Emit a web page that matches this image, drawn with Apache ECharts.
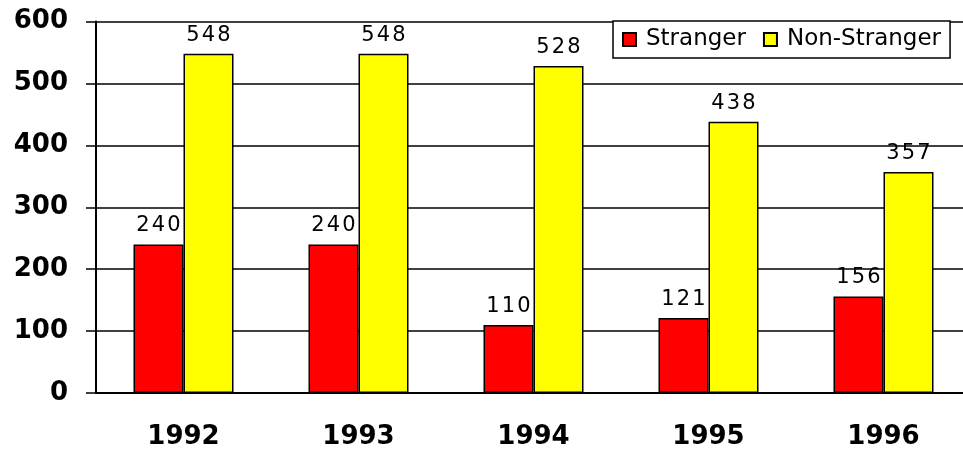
<!DOCTYPE html>
<html>
<head>
<meta charset="utf-8">
<script src="https://cdn.jsdelivr.net/npm/echarts@6/dist/echarts.min.js"></script>
<style>
  html, body { margin: 0; padding: 0; background: #fff; overflow: hidden; }
  #main { width: 972px; height: 451px; }
</style>
</head>
<body>
<div id="main"></div>
<script>
var years = ['1992', '1993', '1994', '1995', '1996'];
var stranger = [240, 240, 110, 121, 156];
var nonStranger = [548, 548, 528, 438, 357];
var yTicks = { min: 0, max: 600, interval: 100 };

var chart = echarts.init(document.getElementById('main'));

var labelStyle = {
  show: true,
  position: 'top',
  distance: 8,
  color: '#000',
  fontFamily: 'DejaVu Sans',
  fontSize: 21,
  formatter: function(p) {
    return p.value.toString().split('').join('\u200A');
  },
};

var option = {
  animation: false,
  backgroundColor: '#fff',
  // plot runs a little past the right edge of the window, as in the original
  grid: { left: 96, right: 1, top: 21.5, bottom: 58 },
  legend: {
    left: 613,
    top: 21,
    padding: [7, 9, 7, 9],
    itemWidth: 13,
    itemHeight: 13,
    itemGap: 17,
    borderColor: '#000',
    borderWidth: 1.5,
    backgroundColor: '#fff',
    icon: 'rect',
    textStyle: {
      fontFamily: 'DejaVu Sans',
      fontSize: 23,
      color: '#000',
      padding: [0, 0, 0, 5],
    },
    data: ['Stranger', 'Non-Stranger'],
  },
  xAxis: {
    type: 'category',
    data: years,
    axisLine: { lineStyle: { color: '#000', width: 2 } },
    axisTick: { show: false },
    axisLabel: {
      margin: 31,
      color: '#000',
      fontFamily: 'DejaVu Sans',
      fontWeight: 'bold',
      fontSize: 26,
    },
  },
  yAxis: {
    type: 'value',
    min: yTicks.min,
    max: yTicks.max,
    interval: yTicks.interval,
    axisLine: { show: true, lineStyle: { color: '#000', width: 2 } },
    axisTick: { show: true, inside: false, length: 10, lineStyle: { color: '#000', width: 1.5 } },
    splitLine: { show: true, lineStyle: { color: '#000', width: 1.5 } },
    axisLabel: {
      margin: 28,
      color: '#000',
      fontFamily: 'DejaVu Sans',
      fontWeight: 'bold',
      fontSize: 26,
    },
  },
  series: [
    {
      name: 'Stranger',
      type: 'bar',
      data: stranger,
      barWidth: 50,
      barGap: '0%',
      itemStyle: { color: '#ff0000', borderColor: '#000', borderWidth: 1.5 },
      label: labelStyle,
    },
    {
      name: 'Non-Stranger',
      type: 'bar',
      data: nonStranger,
      barWidth: 50,
      barGap: '0%',
      itemStyle: { color: '#ffff00', borderColor: '#000', borderWidth: 1.5 },
      label: labelStyle,
    },
  ],
};

chart.setOption(option);
</script>
</body>
</html>
